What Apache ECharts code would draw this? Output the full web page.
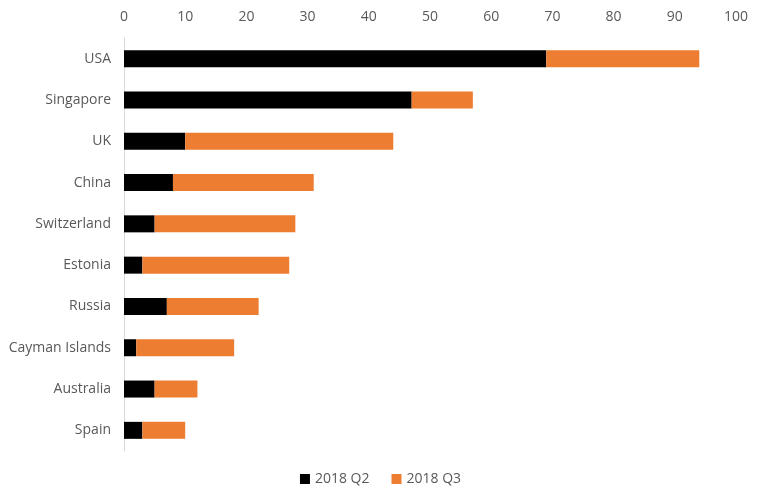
<!DOCTYPE html>
<html><head><meta charset="utf-8">
<script src="https://cdn.jsdelivr.net/npm/echarts@6/dist/echarts.min.js"></script>
<style>html,body{margin:0;padding:0;background:#fff}#c{width:761px;height:500px}</style>
</head><body><div id="c"></div>
<script>
const categories = ["USA","Singapore","UK","China","Switzerland","Estonia","Russia","Cayman Islands","Australia","Spain"];
const q2 = [69,47,10,8,5,3,7,2,5,3];
const q3 = [25,10,34,23,23,24,15,16,7,7];
const seriesNames = ["2018 Q2","2018 Q3"];
const chart = echarts.init(document.getElementById('c'));
const font = "'Open Sans', sans-serif";
chart.setOption({
  animation:false,
  textStyle:{fontFamily:font},
  grid:{left:124,right:25,top:38,bottom:49,containLabel:false},
  legend:{bottom:9,left:'center',itemWidth:10,itemHeight:10,itemGap:22,icon:'rect',
    textStyle:{color:'#595959',fontSize:14,fontFamily:font},data:seriesNames},
  xAxis:{type:'value',position:'top',min:0,max:100,interval:10,
    axisLine:{show:false},axisTick:{show:false},splitLine:{show:false},
    axisLabel:{color:'#595959',fontSize:14,margin:14,fontFamily:font}},
  yAxis:{type:'category',inverse:true,data:categories,
    axisLine:{show:true,lineStyle:{color:'#d9d9d9',width:1}},axisTick:{show:false},
    axisLabel:{color:'#595959',fontSize:14,margin:13,fontFamily:font}},
  series:[
    {name:seriesNames[0],type:'bar',stack:'t',data:q2,barWidth:17,itemStyle:{color:'#000000'}},
    {name:seriesNames[1],type:'bar',stack:'t',data:q3,barWidth:17,itemStyle:{color:'#ed7d31'}}
  ]
});
</script></body></html>
